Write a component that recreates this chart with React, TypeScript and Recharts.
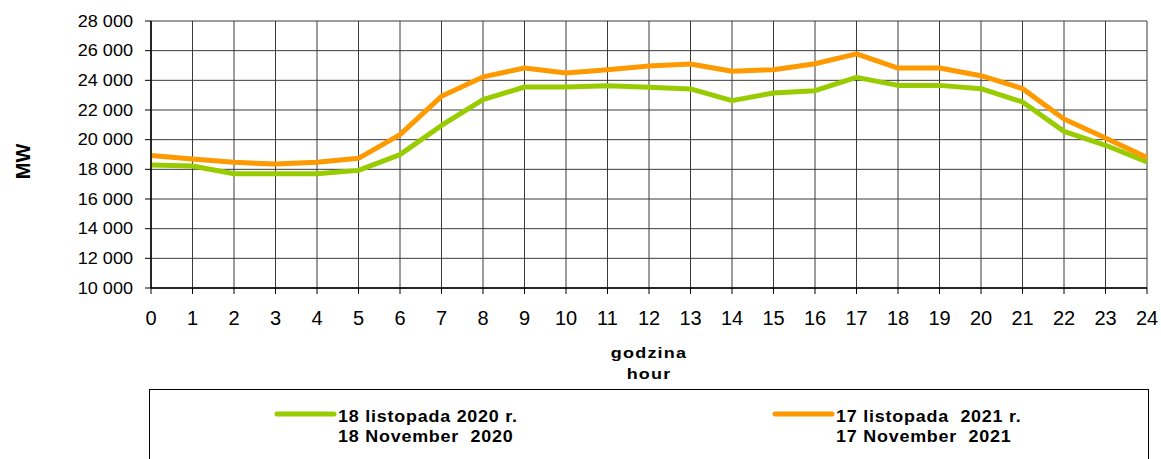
import React from 'react';
import { LineChart, Line, XAxis, YAxis, CartesianGrid, Legend } from 'recharts';

const hours = [0, 1, 2, 3, 4, 5, 6, 7, 8, 9, 10, 11, 12, 13, 14, 15, 16, 17, 18, 19, 20, 21, 22, 23, 24];
const load2020 = [18300, 18230, 17700, 17700, 17700, 17930, 18990, 20960, 22700, 23550, 23550, 23640, 23530, 23420, 22630, 23150, 23300, 24200, 23660, 23660, 23440, 22540, 20560, 19620, 18500];
const load2021 = [18940, 18700, 18470, 18360, 18470, 18740, 20340, 22920, 24230, 24830, 24500, 24720, 24970, 25100, 24610, 24720, 25120, 25780, 24830, 24830, 24310, 23440, 21400, 20110, 18790];
const yTicks = [10000, 12000, 14000, 16000, 18000, 20000, 22000, 24000, 26000, 28000];
const seriesKeys = ['y2020', 'y2021'];
const seriesNamesPl = ['18 listopada 2020 r.', '17 listopada  2021 r.'];
const seriesNamesEn = ['18 November  2020', '17 November  2021'];
const seriesColors = ['#99CC00', '#FF9900'];
const xTitle = ['godzina', 'hour'];
const yTitle = 'MW';

const data = hours.map((h, i) => ({ hour: h, y2020: load2020[i], y2021: load2021[i] }));

const FONT = '"Liberation Sans", Arial, sans-serif';

const fmt = (v: number) => {
  const s = String(v);
  return s.length > 3 ? s.slice(0, s.length - 3) + '\u00a0' + s.slice(s.length - 3) : s;
};

const YTick = (props: any) => {
  const { x, y, payload } = props;
  return (
    <text
      transform={`translate(${x},${y}) scale(1.13,1)`}
      x={0}
      y={0}
      dy="0.36em"
      textAnchor="end"
      fontFamily={FONT}
      fontSize={16}
      fill="#000"
    >
      {fmt(payload.value)}
    </text>
  );
};

const XTick = (props: any) => {
  const { x, y, payload } = props;
  return (
    <text x={x} y={y} dy={29} textAnchor="middle" fontFamily={FONT} fontSize={20} fill="#000">
      {payload.value}
    </text>
  );
};

const XTitle = (props: any) => {
  const vb = props.viewBox || {};
  const cx = vb.x + vb.width / 2;
  return (
    <g>
      {xTitle.map((t, i) => (
        <text
          key={t}
          transform={`translate(${cx},${vb.y + 70 + i * 21}) scale(1.2,1)`}
          x={0}
          y={0}
          textAnchor="middle"
          fontFamily={FONT}
          fontSize={15}
          fontWeight="bold"
          letterSpacing={1}
          fill="#000"
        >
          {t}
        </text>
      ))}
    </g>
  );
};

const YTitle = (props: any) => {
  const vb = props.viewBox || {};
  const cy = vb.y + vb.height / 2 + 7;
  return (
    <text
      transform={`translate(23,${cy}) rotate(-90)`}
      x={0}
      y={0}
      textAnchor="middle"
      dominantBaseline="central"
      fontFamily={FONT}
      fontSize={20}
      fontWeight="bold"
      fill="#000"
    >
      {yTitle}
    </text>
  );
};

const legendSwatchX = [128, 626];

const renderLegend = (props: any) => {
  const payload = props.payload || [];
  return (
    <svg width={1000} height={72} style={{ display: 'block' }}>
      <rect x={0.5} y={0.5} width={999} height={120} fill="#fff" stroke="#000" strokeWidth={1} />
      {payload.map((entry: any, i: number) => {
        const idx = seriesNamesPl.indexOf(entry.value);
        const k = idx >= 0 ? idx : i;
        const sx = legendSwatchX[k];
        return (
          <g key={entry.value}>
            <line x1={sx} y1={25} x2={sx + 57} y2={25} stroke={entry.color} strokeWidth={5} strokeLinecap="round" />
            <text
              transform={`translate(${sx + 61},32.5) scale(1.12,1)`}
              x={0}
              y={0}
              fontFamily={FONT}
              fontSize={16}
              fontWeight="bold"
              letterSpacing={0.7}
              fill="#000"
              style={{ whiteSpace: 'pre' }}
            >
              {seriesNamesPl[k]}
            </text>
            <text
              transform={`translate(${sx + 61},53) scale(1.12,1)`}
              x={0}
              y={0}
              fontFamily={FONT}
              fontSize={16}
              fontWeight="bold"
              letterSpacing={0.7}
              fill="#000"
              style={{ whiteSpace: 'pre' }}
            >
              {seriesNamesEn[k]}
            </text>
          </g>
        );
      })}
    </svg>
  );
};

export default function App() {
  return (
    <div style={{ position: 'absolute', left: 0, top: 0, width: 1161, height: 459, background: '#fff', overflow: 'hidden' }}>
      <LineChart width={1161} height={459} data={data} margin={{ top: 21, right: 14, left: 0, bottom: 0 }}>
        <CartesianGrid stroke="#3a3a3a" strokeWidth={1} />
        <XAxis
          dataKey="hour"
          type="number"
          domain={[0, 24]}
          ticks={hours}
          interval={0}
          height={171}
          tickSize={6}
          tickLine={{ stroke: '#000' }}
          axisLine={{ stroke: '#000', strokeWidth: 1.5 }}
          tick={<XTick />}
          label={<XTitle />}
        />
        <YAxis
          type="number"
          domain={[10000, 28000]}
          ticks={yTicks}
          interval={0}
          width={151}
          tickSize={6}
          tickMargin={12}
          tickLine={{ stroke: '#000' }}
          axisLine={{ stroke: '#000', strokeWidth: 1.5 }}
          tick={<YTick />}
          label={<YTitle />}
        />
        <Legend
          layout="horizontal"
          verticalAlign="middle"
          content={renderLegend}
          wrapperStyle={{ position: 'absolute', left: 149, top: 389, width: 1000, height: 72 }}
        />
        {seriesKeys.map((k, i) => (
          <Line
            key={k}
            type="linear"
            dataKey={k}
            name={seriesNamesPl[i]}
            stroke={seriesColors[i]}
            strokeWidth={5}
            strokeLinejoin="round"
            dot={false}
            activeDot={false}
            isAnimationActive={false}
          />
        ))}
      </LineChart>
    </div>
  );
}
